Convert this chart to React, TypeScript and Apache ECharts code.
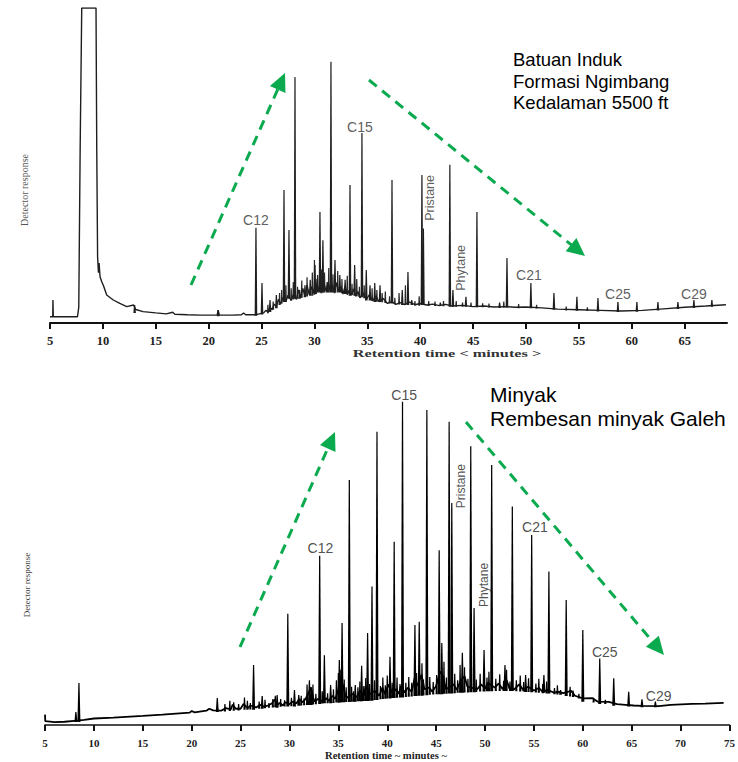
import React, { useEffect, useRef } from "react";
import * as echarts from "echarts";

// ---------- tick labels ----------
const topTicks = [5, 10, 15, 20, 25, 30, 35, 40, 45, 50, 55, 60, 65];
const bottomTicks = [5, 10, 15, 20, 25, 30, 35, 40, 45, 50, 55, 60, 65, 70, 75];

// ---------- upper chromatogram (Batuan Induk) ----------
// continuous trace: [retention time (min), detector response]
const topTrace: number[][] = [
  [5.0, 2.0], [5.26, 2.0], [5.28, 7.3], [5.31, 2.0], [6.5, 2.0], [7.6, 2.0], [7.72, 5], [7.85, 55],
  [8.0, 100], [9.35, 100], [9.42, 55], [9.5, 21], [9.58, 16], [9.64, 19], [9.73, 14.7], [9.9, 13],
  [10.04, 12], [10.36, 8.9], [10.98, 7.3], [11.6, 6.2], [12.25, 5.2], [12.9, 5.7], [13.1, 4.3],
  [13.8, 3.6], [15.0, 3.2], [16.0, 2.9], [16.6, 3.4], [16.8, 2.8], [18.0, 2.6], [19.2, 2.5],
  [20.8, 2.5], [20.9, 4.1], [21.0, 2.5], [22.3, 2.5], [23.1, 2.6], [23.3, 3.2], [23.5, 2.6], [24.4, 2.6],
  [25.2, 3.2], [25.4, 4.0], [25.6, 3.5], [25.8, 5.0], [26.0, 4.2], [26.2, 6.0], [26.4, 5.2], [26.6, 7.5],
  [26.8, 6.0], [27.0, 8.0], [27.3, 6.8], [27.5, 8.8], [27.8, 7.2], [28.0, 9.0], [28.3, 7.5], [28.5, 10.5],
  [28.7, 8.0], [28.9, 11.0], [29.1, 8.5], [29.3, 12.0], [29.5, 9.0], [29.7, 11.5], [29.9, 9.5], [30.1, 13.0],
  [30.3, 10.0], [30.5, 12.0], [30.7, 9.8], [30.9, 12.5], [31.1, 10.2], [31.3, 13.0], [31.5, 10.0], [31.7, 12.0],
  [31.9, 9.5], [32.1, 12.8], [32.3, 10.0], [32.5, 11.5], [32.7, 9.2], [32.9, 11.8], [33.1, 9.0], [33.3, 10.5],
  [33.5, 8.8], [33.7, 10.8], [33.9, 8.5], [34.1, 10.0], [34.3, 8.0], [34.6, 9.5], [34.9, 7.5], [35.2, 9.0],
  [35.5, 7.0], [35.8, 8.5], [36.1, 6.8], [36.5, 7.8], [36.9, 6.2], [37.3, 6.8], [37.7, 5.9], [38.1, 6.5],
  [38.5, 5.8], [39.0, 6.6], [39.5, 5.8], [40.0, 6.2], [40.6, 5.7], [41.2, 6.0], [41.8, 5.5], [42.4, 5.9],
  [43.0, 5.4], [44.0, 5.6], [45.0, 5.2], [46.0, 5.4], [47.0, 5.1], [48.0, 5.2], [49.0, 5.0], [50.0, 5.1],
  [51.5, 4.8], [53.0, 4.4], [55.0, 4.2], [57.0, 4.0], [59.0, 3.8], [61.0, 4.0], [63.0, 4.5], [65.0, 5.0],
  [67.0, 5.4], [68.9, 5.8],
];
// resolved peaks: [retention time, apex, foot]
const topPeaks: number[][] = [
  [13.0, 5.7, 3.5], [20.9, 4.1, 2.5], [24.47, 30.2, 2.6], [25.04, 12.7, 3.0], [25.8, 7.3, 3.8],
  [26.4, 8.9, 5.0], [27.12, 42.2, 7.0], [27.59, 29.5, 8.0], [28.16, 78.1, 8.0], [28.6, 10.5, 8.0],
  [29.1, 12.0, 8.5], [29.6, 13.7, 9.0], [30.05, 18.4, 9.5], [30.3, 15.2, 10.0], [30.52, 35.2, 10.0],
  [30.8, 26.3, 10.0], [31.2, 13.0, 10.0], [31.56, 82.9, 10.0], [31.94, 20.0, 10.0], [32.4, 15.2, 10.0],
  [32.9, 13.7, 9.5], [33.36, 43.8, 9.0], [33.8, 18.4, 9.0], [34.49, 60.3, 8.5], [34.9, 16.8, 7.5],
  [35.25, 12.0, 7.5], [35.7, 12.7, 7.0], [36.2, 12.0, 7.0], [37.33, 45.4, 6.5], [38.3, 10.5, 6.0],
  [38.84, 16.2, 6.0], [39.2, 7.3, 6.0], [40.16, 47.0, 6.0], [40.3, 30.0, 6.0], [41.9, 6.5, 5.7],
  [42.8, 50.2, 5.5], [43.09, 10.5, 5.5], [44.32, 8.3, 5.5], [45.36, 35.2, 5.3], [47.5, 6.5, 5.1],
  [48.2, 20.6, 5.2], [50.46, 12.7, 5.0], [52.64, 9.5, 4.5], [54.81, 8.3, 4.2], [56.8, 7.9, 4.0],
  [58.69, 6.7, 3.8], [60.48, 6.7, 3.9], [62.47, 6.7, 4.3], [64.36, 6.7, 4.8], [65.87, 7.3, 5.1],
  [67.57, 7.3, 5.5],
];
// unresolved small peaks in the hump: [retention time, apex, foot]
const topMinorPeaks: number[][] = [
  [25.6, 5.8, 3.4], [26.1, 6.8, 4.5], [26.7, 9.5, 6.0], [26.9, 10.5, 6.5], [27.3, 12.0, 7.0], [27.8, 11.0, 7.5],
  [28.0, 13.0, 7.8], [28.4, 11.5, 8.0], [28.8, 13.5, 8.3], [29.3, 14.5, 8.7], [29.8, 16.0, 9.0], [30.0, 20.0, 9.3],
  [30.15, 14.0, 9.5], [30.65, 17.0, 9.8], [30.95, 16.0, 10.0], [31.35, 17.5, 10.0], [31.75, 15.5, 10.0],
  [32.2, 16.5, 10.0], [32.6, 14.0, 9.8], [33.1, 15.0, 9.5], [33.55, 12.5, 9.2], [34.0, 14.0, 8.8],
  [34.25, 11.5, 8.6], [34.7, 12.0, 8.2], [35.45, 11.0, 7.4], [35.9, 10.5, 7.1], [36.4, 9.5, 6.9],
  [36.7, 10.0, 6.7], [37.1, 8.5, 6.5], [37.6, 8.0, 6.3], [38.0, 9.5, 6.2], [38.6, 12.0, 6.0], [39.5, 7.0, 5.9],
  [39.9, 8.5, 5.8], [40.8, 7.0, 5.7], [41.4, 6.8, 5.7], [42.2, 7.0, 5.6], [43.4, 7.0, 5.5], [44.0, 6.5, 5.5],
  [44.8, 6.5, 5.4], [45.9, 6.3, 5.3], [46.5, 6.2, 5.2], [47.9, 6.8, 5.2], [49.3, 6.0, 5.0], [51.0, 5.8, 4.9],
  [53.8, 5.2, 4.3], [55.8, 5.0, 4.1],
];
const topLabelNames = ["C12", "C15", "Pristane", "Phytane", "C21", "C25", "C29"];
const topLabelAt: number[][] = [
  [24.47, 32.7], [34.3, 62.2], [40.92, 39.7], [43.85, 17.5], [50.27, 15.2], [58.69, 9.2], [65.87, 9.2],
];

// ---------- lower chromatogram (Minyak rembesan Galeh) ----------
const bottomTrace: number[][] = [
  [5.0, 3.2], [5.03, 1.2], [6.0, 0.9], [7.0, 1.0], [8.0, 1.3], [9.0, 1.6], [10.0, 2.0], [12.0, 2.3],
  [15.0, 2.8], [17.0, 3.2], [19.8, 3.8], [20.0, 4.3], [20.3, 3.9], [21.5, 4.4], [21.8, 5.0], [22.2, 4.5],
  [23.0, 4.4], [23.5, 5.2], [24.0, 4.8], [24.2, 6.3], [24.5, 5.0], [25.0, 5.0], [25.3, 6.5], [25.6, 5.5],
  [25.8, 5.3], [26.0, 6.0], [26.6, 5.4], [27.0, 6.2], [27.4, 5.6], [27.8, 6.0], [28.2, 6.6], [28.5, 7.8],
  [28.8, 6.2], [29.0, 6.8], [29.3, 6.0], [29.6, 7.0], [30.0, 6.4], [30.3, 7.2], [30.7, 6.6], [31.0, 8.0],
  [31.3, 7.0], [31.6, 7.8], [31.9, 9.5], [32.2, 11.5], [32.4, 8.5], [32.6, 7.2], [32.9, 8.0], [33.3, 7.4],
  [33.8, 8.2], [34.0, 7.4], [34.4, 9.0], [34.7, 8.0], [35.0, 11.0], [35.2, 14.5], [35.5, 12.0], [35.7, 9.0],
  [36.0, 8.4], [36.4, 9.6], [36.9, 8.6], [37.2, 10.5], [37.6, 9.0], [37.8, 12.0], [38.2, 9.5], [38.7, 10.5],
  [39.2, 9.0], [39.5, 11.5], [39.8, 9.4], [40.1, 12.5], [40.5, 10.0], [40.9, 11.0], [41.2, 9.6], [41.4, 12.0],
  [41.8, 10.0], [42.1, 11.5], [42.5, 10.2], [42.8, 14.5], [43.1, 12.0], [43.5, 15.5], [43.8, 11.0], [44.3, 11.5],
  [44.6, 10.2], [45.0, 12.0], [45.4, 16.5], [45.7, 15.0], [46.0, 11.0], [46.8, 12.5], [47.1, 10.8], [47.5, 13.5],
  [47.9, 15.0], [48.2, 11.8], [49.2, 11.0], [49.6, 12.5], [50.0, 11.2], [50.3, 13.0], [51.0, 11.5], [51.4, 12.8],
  [51.8, 11.0], [52.2, 13.8], [52.5, 11.2], [53.0, 11.0], [53.5, 12.5], [53.9, 10.8], [54.4, 11.8], [55.0, 10.6],
  [55.5, 11.4], [55.9, 10.2], [56.4, 10.8], [57.0, 10.0], [57.55, 10.2], [58.0, 9.8], [58.8, 10.5], [59.2, 9.0],
  [60.0, 8.2], [60.95, 8.3], [61.5, 7.2], [62.65, 7.1], [63.5, 6.4], [64.36, 6.2], [65.2, 6.0], [66.0, 5.9],
  [67.76, 5.8], [69.0, 6.2], [71.15, 6.5], [72.5, 6.6], [74.4, 6.8],
];
const bottomPeaks: number[][] = [
  [8.16, 4.0, 1.2], [8.47, 12.9, 1.2], [22.62, 8.3, 4.3], [26.33, 18.5, 5.0], [27.21, 8.9, 5.3],
  [28.74, 9.2, 5.6], [29.83, 34.2, 6.0], [30.51, 10.8, 6.0], [30.95, 9.2, 6.2], [32.04, 13.8, 6.5],
  [32.21, 11.7, 6.5], [33.09, 52.1, 6.8], [33.57, 21.5, 7.0], [34.21, 12.3, 7.0], [35.1, 20.0, 7.2],
  [35.38, 31.4, 7.3], [36.12, 75.4, 7.4], [36.73, 12.3, 7.5], [37.38, 18.2, 7.6], [37.99, 28.3, 7.7],
  [38.44, 42.6, 7.8], [38.95, 90.2, 8.0], [40.28, 21.0, 8.5], [40.71, 56.4, 8.6], [41.56, 99.5, 8.8],
  [42.83, 30.8, 9.2], [43.27, 31.8, 9.3], [44.05, 96.9, 9.5], [45.31, 53.8, 9.8], [45.58, 25.2, 9.8],
  [46.33, 93.3, 10.0], [46.6, 68.3, 10.0], [47.68, 22.2, 10.2], [48.54, 85.8, 10.4], [48.88, 36.0, 10.4],
  [49.9, 23.1, 10.6], [50.68, 80.0, 10.7], [52.04, 18.5, 10.8], [52.79, 67.2, 10.8], [54.15, 15.4, 10.5],
  [54.77, 58.5, 10.4], [56.02, 15.4, 10.2], [56.53, 47.2, 10.0], [57.72, 10.8, 9.6], [58.3, 38.5, 9.2],
  [60.0, 29.2, 7.5], [61.73, 20.5, 6.8], [63.16, 14.4, 6.2], [64.69, 10.2, 6.0], [66.05, 7.9, 5.8],
  [67.42, 7.2, 5.8],
];
const bottomMinorPeaks: number[][] = [
  [23.4, 6.5, 4.5], [23.9, 7.5, 4.6], [24.3, 7.0, 4.7], [24.8, 6.5, 4.8], [25.4, 8.5, 5.0], [25.7, 7.5, 5.0],
  [26.0, 6.8, 5.1], [26.9, 7.2, 5.3], [27.5, 7.8, 5.5], [27.9, 6.8, 5.6], [28.3, 8.0, 5.7], [28.55, 9.0, 5.8],
  [29.1, 8.0, 5.9], [29.5, 7.6, 6.0], [30.2, 8.4, 6.1], [31.2, 9.0, 6.3], [31.5, 8.2, 6.4], [31.8, 12.5, 6.5],
  [32.4, 12.5, 6.6], [32.7, 9.6, 6.7], [33.35, 10.4, 6.9], [33.9, 9.8, 7.0], [34.5, 11.0, 7.1], [34.8, 13.8, 7.2],
  [35.0, 16.0, 7.2], [35.25, 17.0, 7.3], [35.6, 14.0, 7.3], [35.8, 11.6, 7.4], [36.35, 11.8, 7.5], [36.55, 10.4, 7.5],
  [37.0, 11.6, 7.6], [37.2, 13.4, 7.6], [37.6, 12.0, 7.7], [37.8, 14.5, 7.7], [38.2, 12.6, 7.8], [38.7, 13.8, 8.0],
  [39.3, 12.0, 8.2], [39.55, 14.6, 8.3], [39.8, 12.2, 8.4], [40.0, 15.2, 8.5], [40.5, 13.0, 8.6], [41.0, 14.6, 8.7],
  [41.3, 12.6, 8.8], [41.9, 13.0, 8.9], [42.2, 14.8, 9.0], [42.5, 13.0, 9.1], [43.0, 16.0, 9.2], [43.55, 19.0, 9.3],
  [43.7, 14.0, 9.4], [44.35, 14.8, 9.6], [44.7, 13.2, 9.7], [45.05, 15.4, 9.8], [45.8, 19.5, 9.9], [46.05, 14.6, 9.9],
  [46.9, 15.8, 10.1], [47.2, 13.8, 10.2], [47.45, 18.5, 10.2], [47.9, 17.8, 10.3], [48.25, 14.2, 10.3],
  [49.1, 14.0, 10.5], [49.5, 15.8, 10.6], [50.2, 14.6, 10.7], [50.4, 16.4, 10.7], [51.1, 14.2, 10.8],
  [51.5, 15.6, 10.8], [51.9, 13.6, 10.8], [52.2, 17.0, 10.8], [52.55, 13.4, 10.8], [53.2, 13.8, 10.7],
  [53.6, 15.2, 10.6], [53.95, 13.2, 10.6], [54.45, 14.4, 10.5], [55.2, 12.8, 10.3], [55.5, 14.2, 10.2],
  [55.9, 12.6, 10.1], [56.3, 13.4, 10.0], [57.1, 11.4, 9.8], [57.4, 12.2, 9.7], [58.7, 11.8, 9.1],
  [59.0, 10.6, 8.9], [59.6, 9.6, 8.5], [61.1, 8.4, 7.2], [62.3, 7.8, 6.8],
];
const bottomLabelNames = ["C12", "C15", "Pristane", "Phytane", "C21", "C25", "C29"];
const bottomLabelAt: number[][] = [
  [33.16, 54.5], [41.73, 101.6], [47.55, 73.5], [49.9, 43.1], [55.1, 60.8], [62.24, 22.6], [67.76, 8.9],
];

const topNote = ["Batuan Induk", "Formasi Ngimbang", "Kedalaman 5500 ft"];
const bottomNote = ["Minyak", "Rembesan minyak Galeh"];

const GREEN = "#0BAA4F";
const SANS = "'Liberation Sans', Arial, sans-serif";
const SERIF = "'Liberation Serif', 'Times New Roman', serif";

function arrow(x1: number, y1: number, x2: number, y2: number) {
  const dx = x2 - x1, dy = y2 - y1;
  const L = Math.hypot(dx, dy);
  const ux = dx / L, uy = dy / L;
  const hl = 18, hw = 8.5;
  const bx = x2 - ux * hl, by = y2 - uy * hl;
  return [
    { type: "line", shape: { x1, y1, x2: bx + ux * 2, y2: by + uy * 2 }, style: { stroke: GREEN, lineWidth: 3, lineDash: [10, 7] }, silent: true },
    { type: "polygon", shape: { points: [[x2, y2], [bx - uy * hw, by + ux * hw], [bx + uy * hw, by - ux * hw]] }, style: { fill: GREEN }, silent: true },
  ];
}

function spikes(peaks: number[][], idx: number, color: string, half: number) {
  return {
    type: "custom",
    xAxisIndex: idx,
    yAxisIndex: idx,
    data: peaks,
    silent: true,
    encode: { x: 0, y: 1 },
    renderItem: (_p: any, api: any) => {
      const t = api.value(0), top = api.value(1), foot = api.value(2);
      const a = api.coord([t, top]);
      const b = api.coord([t, foot]);
      return {
        type: "polygon",
        shape: { points: [[b[0] - half, b[1] + 1], [a[0] - 0.6, a[1]], [a[0] + 0.6, a[1]], [b[0] + half, b[1] + 1]] },
        style: { fill: color },
      };
    },
  };
}

function labels(names: string[], at: number[][], idx: number, color: string, cSize: number, rSize: number) {
  return {
    type: "scatter",
    xAxisIndex: idx,
    yAxisIndex: idx,
    symbolSize: 0,
    silent: true,
    clip: false,
    data: names.map((n, i) => {
      const rot = n === "Pristane" || n === "Phytane";
      return {
        name: n,
        value: at[i],
        label: { rotate: rot ? 90 : 0, fontSize: rot ? rSize : cSize },
      };
    }),
    label: {
      show: true,
      position: "inside",
      formatter: (p: any) => p.name,
      color,
      fontFamily: SANS,
      align: "center",
      verticalAlign: "middle",
    },
  };
}

export default function App() {
  const ref = useRef<HTMLDivElement>(null);
  useEffect(() => {
    if (!ref.current) return;
    const chart = echarts.init(ref.current, undefined, { renderer: "svg" });
    const xAxisBase = (min: number, max: number, ticks: number[], size: number, margin: number, lw: number) => ({
      type: "value",
      min,
      max,
      axisLine: { show: true, onZero: false, lineStyle: { color: "#111", width: lw } },
      axisTick: { show: true, inside: false, length: 6, customValues: ticks, lineStyle: { color: "#111", width: 2 } },
      axisLabel: {
        show: true,
        customValues: ticks,
        margin,
        fontFamily: SERIF,
        fontWeight: "bold",
        fontSize: size,
        color: "#222",
      },
      splitLine: { show: false },
    });
    const option: any = {
      animation: false,
      backgroundColor: "#ffffff",
      grid: [
        { left: 50, top: 8, width: 677, height: 315 },
        { left: 45, top: 367.5, width: 686, height: 357.5 },
      ],
      xAxis: [
        { ...xAxisBase(5, 69, topTicks, 12.5, 11, 2), gridIndex: 0 },
        { ...xAxisBase(5, 75, bottomTicks, 11, 12, 1.6), gridIndex: 1 },
      ],
      yAxis: [
        { type: "value", gridIndex: 0, min: 0, max: 100, show: false },
        { type: "value", gridIndex: 1, min: 0, max: 110, show: false },
      ],
      series: [
        {
          type: "line",
          xAxisIndex: 0,
          yAxisIndex: 0,
          data: topTrace,
          showSymbol: false,
          silent: true,
          lineStyle: { color: "#1e1e1e", width: 1.4 },
        },
        spikes(topMinorPeaks, 0, "#2a2a2a", 1.0),
        spikes(topPeaks, 0, "#1e1e1e", 1.3),
        labels(topLabelNames, topLabelAt, 0, "#333", 14, 12.5),
        {
          type: "line",
          xAxisIndex: 1,
          yAxisIndex: 1,
          data: bottomTrace,
          showSymbol: false,
          silent: true,
          lineStyle: { color: "#000", width: 1.8 },
        },
        spikes(bottomMinorPeaks, 1, "#000", 1.1),
        spikes(bottomPeaks, 1, "#000", 1.5),
        labels(bottomLabelNames, bottomLabelAt, 1, "#222", 14, 12),
      ],
      graphic: [
        ...arrow(191, 285, 285, 73),
        ...arrow(369, 80, 585, 256),
        ...arrow(240, 647, 335, 432),
        ...arrow(466, 422, 664, 655),
        {
          type: "text",
          left: 513,
          top: 49,
          silent: true,
          style: { text: topNote.join("\n"), font: `18.5px ${SANS}`, fill: "#000", lineHeight: 21.5 },
        },
        {
          type: "text",
          left: 490,
          top: 382,
          silent: true,
          style: { text: bottomNote.join("\n"), font: `21px ${SANS}`, fill: "#000", lineHeight: 24 },
        },
        {
          type: "text",
          x: 24,
          y: 190,
          rotation: Math.PI / 2,
          silent: true,
          style: { text: "Detector response", font: `10px ${SERIF}`, fill: "#555", align: "center", verticalAlign: "middle" },
        },
        {
          type: "text",
          x: 27,
          y: 585,
          rotation: Math.PI / 2,
          silent: true,
          style: { text: "Detector response", font: `9px ${SERIF}`, fill: "#444", align: "center", verticalAlign: "middle" },
        },
        {
          type: "text",
          x: 447,
          y: 354,
          scaleX: 1.55,
          silent: true,
          style: { text: "Retention time < minutes >", font: `bold 10.5px ${SERIF}`, fill: "#333", align: "center", verticalAlign: "middle" },
        },
        {
          type: "text",
          x: 386,
          y: 755.5,
          scaleX: 1.12,
          silent: true,
          style: { text: "Retention time ~ minutes ~", font: `bold 9.5px ${SERIF}`, fill: "#222", align: "center", verticalAlign: "middle" },
        },
      ],
    };
    chart.setOption(option);
    return () => chart.dispose();
  }, []);
  return <div ref={ref} style={{ position: "absolute", left: 0, top: 0, width: 738, height: 762 }} />;
}
